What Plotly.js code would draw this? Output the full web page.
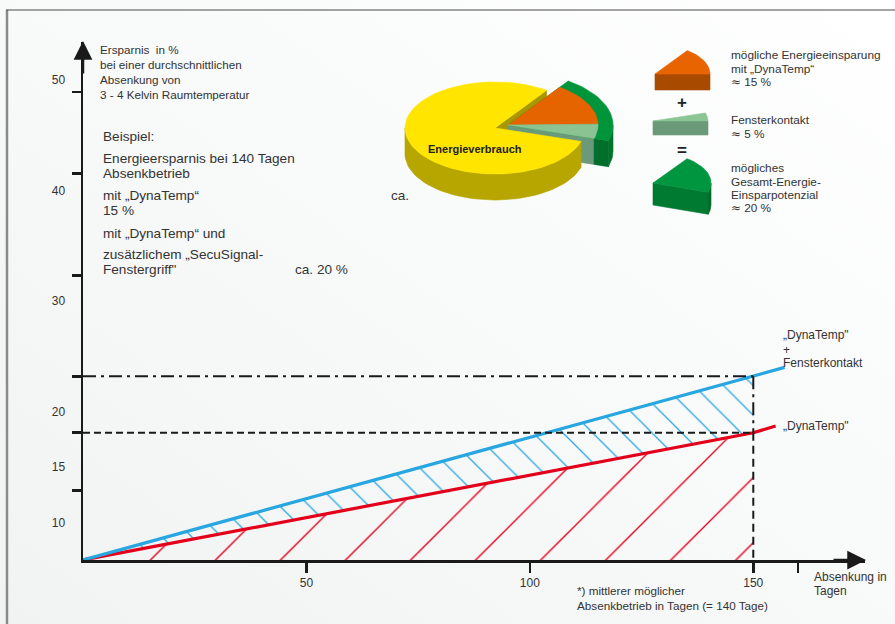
<!DOCTYPE html>
<html>
<head>
<meta charset="utf-8">
<script src="https://cdn.plot.ly/plotly-3.0.1.min.js"></script>
<style>html,body{margin:0;padding:0;background:#f6f7f7;}#chart{width:895px;height:624px;}</style>
</head>
<body>
<div id="chart"></div>
<script>
// ---------- data ----------
const redDays = [0, 150, 155];            // "DynaTemp"
const redSaving = [6.6, 18.1, 18.7];
const blueDays = [0, 150, 157];           // "DynaTemp" + Fensterkontakt
const blueSaving = [6.6, 23.2, 24.0];
const yTickValues = [10, 15, 20, 30, 40, 50];
const yTickLabels = ['10', '15', '20', '30', '40', '50'];
const yTickMarks = [12.9, 18.1, 23.2, 32.3, 41.5, 48.9];
const xTickValues = [50, 100, 150, 160];
const xTickLabels = ['50', '100', '150', ''];
const pieLabels = ['Energieverbrauch', 'DynaTemp', 'Fensterkontakt'];
const pieShares = [80, 15, 5];

// ---------- style ----------
const FONT = 'Liberation Sans, Arial, Helvetica, sans-serif';
const TXT = '#333333';
const AX = '#1a1a1a';
const RED = '#e3001b';
const BLUE = '#27a6e0';
const W = 895, H = 624;
const yRange = [6.6, 53.4];
const xRange = [0, 175];
const APPROX = '<span style="font-family:DejaVu Sans">≈</span>';

const traces = [];

// hatched fills (up to the marked day)
const nFill = 2;
traces.push({
  type: 'scatter', mode: 'lines', x: redDays.slice(0, nFill), y: redSaving.slice(0, nFill),
  line: {width: 0, color: 'rgba(0,0,0,0)'}, fill: 'tozeroy', fillcolor: 'rgba(0,0,0,0)',
  fillpattern: {shape: '/', fgcolor: RED, bgcolor: 'rgba(0,0,0,0)', size: 46, solidity: 0.03},
  hoverinfo: 'skip', xaxis: 'x', yaxis: 'y'
});
traces.push({
  type: 'scatter', mode: 'lines', x: blueDays.slice(0, nFill), y: blueSaving.slice(0, nFill),
  line: {width: 0, color: 'rgba(0,0,0,0)'}, fill: 'tonexty', fillcolor: 'rgba(0,0,0,0)',
  fillpattern: {shape: '\\', fgcolor: BLUE, bgcolor: 'rgba(0,0,0,0)', size: 21, solidity: 0.06},
  hoverinfo: 'skip', xaxis: 'x', yaxis: 'y'
});
// main lines (on overlay axis so they sit above the hatching)
traces.push({type: 'scatter', mode: 'lines', x: redDays, y: redSaving,
  line: {color: RED, width: 3.2}, hoverinfo: 'skip', xaxis: 'x', yaxis: 'y2'});
traces.push({type: 'scatter', mode: 'lines', x: blueDays, y: blueSaving,
  line: {color: BLUE, width: 3.2}, hoverinfo: 'skip', xaxis: 'x', yaxis: 'y2'});

// ---------- 3D pie illustration (pixel-space hidden axes) ----------
function P(cx, cy, rx, ry, a) {
  const t = a * Math.PI / 180;
  return [cx + rx * Math.cos(t), cy - ry * Math.sin(t)];
}
function arc(cx, cy, rx, ry, a1, a2, n) {
  const pts = [];
  n = n || Math.max(4, Math.ceil(Math.abs(a2 - a1) / 3));
  for (let i = 0; i <= n; i++) pts.push(P(cx, cy, rx, ry, a1 + (a2 - a1) * i / n));
  return pts;
}
function poly(pts, color) {
  traces.push({
    type: 'scatter', mode: 'lines', x: pts.map(p => p[0]).concat([pts[0][0]]),
    y: pts.map(p => p[1]).concat([pts[0][1]]), fill: 'toself', fillcolor: color,
    line: {width: 0.6, color: color}, hoverinfo: 'skip', xaxis: 'x3', yaxis: 'y3'
  });
}
function down(pts, d) { return pts.map(p => [p[0], p[1] + d]); }
function sideBand(cx, cy, rx, ry, a1, a2, d, color) {
  const lo = Math.max(a1, 180), hi = Math.min(a2, 360);
  const lo2 = Math.max(a1, -180), hi2 = Math.min(a2, 0);
  [[lo, hi], [lo2, hi2]].forEach(r => {
    if (r[1] > r[0]) {
      const top = arc(cx, cy, rx, ry, r[0], r[1]);
      poly(top.concat(down(top, d).reverse()), color);
    }
  });
}
function cutFace(cx, cy, r0x, r0y, r1x, r1y, a, d, color) {
  const p0 = P(cx, cy, r0x, r0y, a), p1 = P(cx, cy, r1x, r1y, a);
  poly([p0, p1, [p1[0], p1[1] + d], [p0[0], p0[1] + d]], color);
}
function wedgeTop(cx, cy, rx, ry, a1, a2, color) {
  poly([[cx, cy]].concat(arc(cx, cy, rx, ry, a1, a2)), color);
}

const total = pieShares.reduce((a, b) => a + b, 0);
const deg = pieShares.map(v => v / total * 360);
const cut = 55;                         // angle where the pulled wedge starts
const yA1 = cut, yA2 = cut + deg[0];    // yellow wedge
const pA2 = cut, pA1 = cut - deg[1] - deg[2];  // pulled wedge
const pie = {cx: 495, cy: 128, rx: 90, ry: 46, d: 26};
const pul = {cx: 508, cy: 125, rx: 90, ry: 46, ox: 105, oy: 53.7};

// yellow cut face (behind the pulled wedge)
cutFace(pie.cx, pie.cy, 0, 0, pie.rx, pie.ry, yA1, pie.d, '#a99700');
// pulled wedge
cutFace(pul.cx, pul.cy, 0, 0, pul.rx, pul.ry, pA1, pie.d, '#6b9a7a');
cutFace(pul.cx, pul.cy, pul.rx, pul.ry, pul.ox, pul.oy, pA1, pie.d, '#006f2b');
sideBand(pul.cx, pul.cy, pul.ox, pul.oy, pA1, pA2, pie.d, '#00732d');
wedgeTop(pul.cx, pul.cy, pul.ox, pul.oy, pA1, pA2, '#00953b');
wedgeTop(pul.cx, pul.cy, pul.rx, pul.ry, pA2 - deg[1], pA2, '#e66400');
wedgeTop(pul.cx, pul.cy, pul.rx, pul.ry, pA1, pA1 + deg[2], '#8bc492');
// yellow body (in front)
sideBand(pie.cx, pie.cy, pie.rx, pie.ry, yA1, yA2, pie.d, '#b7a600');
wedgeTop(pie.cx, pie.cy, pie.rx, pie.ry, yA1, yA2, '#ffe500');

// legend icons
function icon(cx, cy, rx, ry, a1, a2, d, top, face, side) {
  cutFace(cx, cy, 0, 0, rx, ry, a1, d, face);
  sideBand(cx, cy, rx, ry, a1, a2, d, side);
  wedgeTop(cx, cy, rx, ry, a1, a2, top);
}
icon(655, 74, 55, 29, 0, deg[1], 16, '#e86400', '#a84a00', '#a84a00');
icon(653, 121, 55, 26, 0, deg[2], 14, '#8cc594', '#6a9a78', '#6a9a78');
icon(653, 183, 58, 30, -deg[2], deg[1], 22, '#009640', '#007a30', '#006a28');

// ---------- shapes ----------
const shapes = [
  {type: 'line', xref: 'x3', yref: 'y3', x0: 7, x1: 7, y0: 10, y1: 624, line: {color: '#8a8a8a', width: 2.5}},
  {type: 'line', xref: 'x3', yref: 'y3', x0: 6, x1: 895, y0: 10, y1: 10, line: {color: '#4a4a4a', width: 1.2}},
  {type: 'line', xref: 'x', yref: 'y', x0: 0, x1: blueDays[1], y0: blueSaving[1], y1: blueSaving[1],
    line: {color: AX, width: 2, dash: '13px,5px,3px,5px'}},
  {type: 'line', xref: 'x', yref: 'y', x0: 0, x1: redDays[1], y0: redSaving[1], y1: redSaving[1],
    line: {color: AX, width: 2, dash: '7px,4px'}},
  {type: 'line', xref: 'x', yref: 'y', x0: blueDays[1], x1: blueDays[1], y0: blueSaving[1], y1: redSaving[1],
    line: {color: AX, width: 2, dash: '13px,5px,3px,5px'}},
  {type: 'line', xref: 'x', yref: 'y', x0: redDays[1], x1: redDays[1], y0: redSaving[1], y1: yRange[0],
    line: {color: AX, width: 2, dash: '8px,5px'}}
];

// ---------- texts ----------
const annotations = [];
function txt(x, y, text, size, opts) {
  annotations.push(Object.assign({
    xref: 'x3', yref: 'y3', x: x, y: y, text: text, showarrow: false,
    xanchor: 'left', yanchor: 'middle', borderpad: 0,
    font: {family: FONT, size: size, color: TXT}
  }, opts || {}));
}
['Ersparnis\u00a0\u00a0in %', 'bei einer durchschnittlichen', 'Absenkung von', '3 - 4 Kelvin Raumtemperatur']
  .forEach((t, i) => txt(99, 49 + i * 15, t, 11.7));
txt(102, 136, 'Beispiel:', 13.6);
txt(102, 158, 'Energieersparnis bei 140 Tagen', 13.6);
txt(102, 173.5, 'Absenkbetrieb', 13.6);
txt(102, 195, 'mit „DynaTemp“', 13.6);
txt(390, 195, 'ca.', 13.6);
txt(102, 210.5, '15 %', 13.6);
txt(102, 233, 'mit „DynaTemp“ und', 13.6);
txt(102, 254, 'zusätzlichem „SecuSignal-', 13.6);
txt(102, 269.5, 'Fenstergriff"', 13.6);
txt(294, 269.5, 'ca. 20 %', 13.6);
txt(475, 149, '<b>' + pieLabels[0] + '</b>', 11, {xanchor: 'center', font: {family: FONT, size: 11, color: '#222'}});
txt(730, 55, 'mögliche Energieeinsparung', 11.8);
txt(730, 69, 'mit „DynaTemp“', 11.8);
txt(730, 82, APPROX + ' 15 %', 11.8);
txt(682, 102, '<b>+</b>', 17, {xanchor: 'center', font: {family: FONT, size: 17, color: '#222'}});
txt(730, 120, 'Fensterkontakt', 11.8);
txt(730, 134, APPROX + ' 5 %', 11.8);
txt(682, 150, '<b>=</b>', 17, {xanchor: 'center', font: {family: FONT, size: 17, color: '#222'}});
txt(730, 168, 'mögliches', 11.8);
txt(730, 182, 'Gesamt-Energie-', 11.8);
txt(730, 195, 'Einsparpotenzial', 11.8);
txt(730, 208, APPROX + ' 20 %', 11.8);
txt(782, 335, '„DynaTemp"', 12);
txt(782, 350, '+', 12);
txt(782, 363, 'Fensterkontakt', 12);
txt(782, 426, '„DynaTemp"', 12);
txt(813, 577, 'Absenkung in', 12);
txt(813, 591, 'Tagen', 12);
txt(576, 590, '*) mittlerer möglicher', 11.7);
txt(576, 605, 'Absenkbetrieb in Tagen (= 140 Tage)', 11.7);
annotations.push({xref: 'x3', yref: 'y3', x: 83, y: 41, ax: 0, ay: 34, axref: 'pixel', ayref: 'pixel',
  text: '', showarrow: true, arrowhead: 2, arrowsize: 1.5, arrowwidth: 2.5, arrowcolor: AX, standoff: 0});
annotations.push({xref: 'x3', yref: 'y3', x: 866, y: 560, ax: -34, ay: 0, axref: 'pixel', ayref: 'pixel',
  text: '', showarrow: true, arrowhead: 2, arrowsize: 1.5, arrowwidth: 2.5, arrowcolor: AX, standoff: 0});

const svg = '<svg xmlns="http://www.w3.org/2000/svg" width="895" height="624"><defs>' +
  '<linearGradient id="g" x1="1" y1="0" x2="0" y2="1"><stop offset="0" stop-color="#ffffff"/>' +
  '<stop offset="1" stop-color="#f1f3f3"/></linearGradient></defs>' +
  '<rect width="895" height="624" fill="url(#g)"/></svg>';

const yDom = [1 - 560 / H, 1 - 42 / H];
const xDom = [83 / W, 865 / W];

const layout = {
  width: W, height: H, autosize: false,
  margin: {l: 0, r: 0, t: 0, b: 0, pad: 0},
  paper_bgcolor: '#f6f7f7', plot_bgcolor: 'rgba(0,0,0,0)',
  showlegend: false,
  font: {family: FONT, color: TXT},
  images: [{source: 'data:image/svg+xml;charset=utf-8,' + encodeURIComponent(svg),
    xref: 'paper', yref: 'paper', x: 0, y: 1, sizex: 1, sizey: 1, sizing: 'stretch', layer: 'below'}],
  xaxis: {domain: xDom, range: xRange, showgrid: false, zeroline: false,
    showline: true, linecolor: AX, linewidth: 2.5,
    ticks: 'outside', ticklen: 10, tickwidth: 2.5, tickcolor: AX,
    tickvals: xTickValues, ticktext: xTickLabels,
    tickfont: {family: FONT, size: 12, color: TXT}, anchor: 'y', fixedrange: true},
  yaxis: {domain: yDom, range: yRange, showgrid: false, zeroline: false,
    showline: true, linecolor: AX, linewidth: 2.5,
    ticks: 'outside', ticklen: 13, tickcolor: 'rgba(0,0,0,0)',
    tickvals: yTickValues, ticktext: yTickLabels,
    tickfont: {family: FONT, size: 12, color: TXT}, anchor: 'x', fixedrange: true},
  yaxis2: {domain: yDom, range: yRange, overlaying: 'y', side: 'left', anchor: 'x',
    showgrid: false, zeroline: false, showline: false,
    ticks: 'outside', ticklen: 10, tickwidth: 2.5, tickcolor: AX,
    tickvals: yTickMarks, showticklabels: false, fixedrange: true},
  xaxis3: {domain: [0, 1], range: [0, W], visible: false, anchor: 'y3', fixedrange: true},
  yaxis3: {domain: [0, 1], range: [H, 0], visible: false, anchor: 'x3', fixedrange: true},
  shapes: shapes,
  annotations: annotations
};

Plotly.newPlot('chart', traces, layout, {displayModeBar: false, staticPlot: true});
</script>
</body>
</html>
